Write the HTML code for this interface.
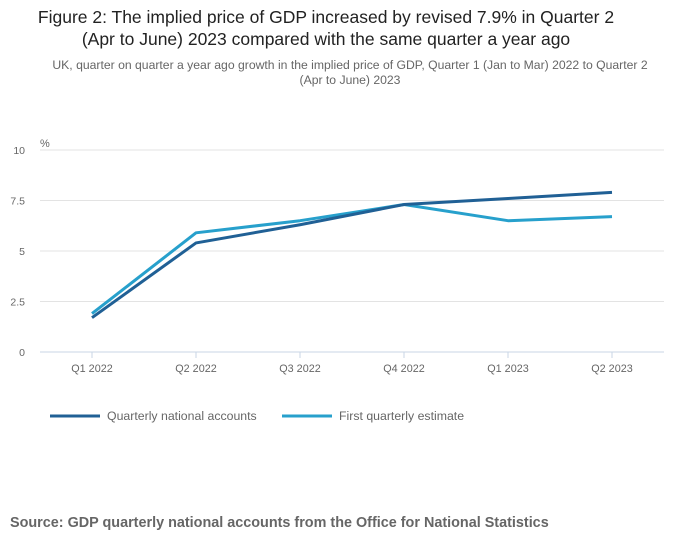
<!DOCTYPE html>
<html><head><meta charset="utf-8"><style>
body{margin:0;background:#fff;font-family:"Liberation Sans",sans-serif;}
#wrap{position:relative;width:700px;height:549px;overflow:hidden}
</style></head><body>
<div id="wrap">
<svg width="700" height="549">
<text x="326" y="23" text-anchor="middle" font-size="17.5" fill="#222">Figure 2: The implied price of GDP increased by revised 7.9% in Quarter 2</text>
<text x="326" y="45" text-anchor="middle" font-size="17.5" fill="#222">(Apr to June) 2023 compared with the same quarter a year ago</text>
<text x="350" y="69" text-anchor="middle" font-size="12.2" fill="#666">UK, quarter on quarter a year ago growth in the implied price of GDP, Quarter 1 (Jan to Mar) 2022 to Quarter 2</text>
<text x="350" y="84" text-anchor="middle" font-size="12.2" fill="#666">(Apr to June) 2023</text>
<text x="40" y="147" font-size="11" fill="#666">%</text>
<g id="grid"></g><g id="lines"></g>
<line x1="50" y1="416" x2="100" y2="416" stroke="#206095" stroke-width="3"/>
<text x="107" y="420" font-size="12.3" fill="#666">Quarterly national accounts</text>
<line x1="282" y1="416" x2="332" y2="416" stroke="#27a0cc" stroke-width="3"/>
<text x="339" y="420" font-size="12.3" fill="#666">First quarterly estimate</text>
<text x="10" y="527" font-size="14.4" font-weight="bold" fill="#666">Source: GDP quarterly national accounts from the Office for National Statistics</text>
</svg></div>
<script>
const categories=["Q1 2022","Q2 2022","Q3 2022","Q4 2022","Q1 2023","Q2 2023"];
const qnaValues=[1.7,5.4,6.3,7.3,7.6,7.9];
const fqeValues=[1.9,5.9,6.5,7.3,6.5,6.7];
const yTicks=[0,2.5,5,7.5,10];
const yTickLabels=["0","2.5","5","7.5","10"];
const NS="http://www.w3.org/2000/svg";
const L=40,R=664,T=150,B=352;
const bw=(R-L)/categories.length;
function xs(i){return L+bw*(i+0.5);}
function ys(v){return B-(v/10)*(B-T);}
function mk(tag,at,parent){const e=document.createElementNS(NS,tag);for(const k in at)e.setAttribute(k,at[k]);parent.appendChild(e);return e;}
const g=document.getElementById('grid');
yTicks.forEach((v,i)=>{
 const ln=mk('line',{x1:L,x2:R,y1:ys(v),y2:ys(v),stroke:v===0?'#c8d6e5':'#e3e3e3','stroke-width':1},g);
 
 
 const t=mk('text',{x:25,y:ys(v)+4,'text-anchor':'end','font-size':10.5,fill:'#666'},g);
 t.textContent=yTickLabels[i];
 
 
});
categories.forEach((c,i)=>{
 const tk=mk('line',{x1:xs(i),x2:xs(i),y1:B,y2:B+6,stroke:'#c8d6e5'},g);
 
 
 const t=mk('text',{x:xs(i),y:B+20,'text-anchor':'middle','font-size':10.8,fill:'#666'},g);
 t.textContent=c;
 
 
});
const lg=document.getElementById('lines');
function line(vals,col,name){
 const p=mk('polyline',{points:vals.map((v,i)=>xs(i)+','+ys(v)).join(' '),fill:'none',stroke:col,'stroke-width':3,'stroke-linejoin':'round'},lg);
 
 
}
line(fqeValues,'#27a0cc','series-first-quarterly-estimate');
line(qnaValues,'#206095','series-quarterly-national-accounts');
</script>
</body></html>
